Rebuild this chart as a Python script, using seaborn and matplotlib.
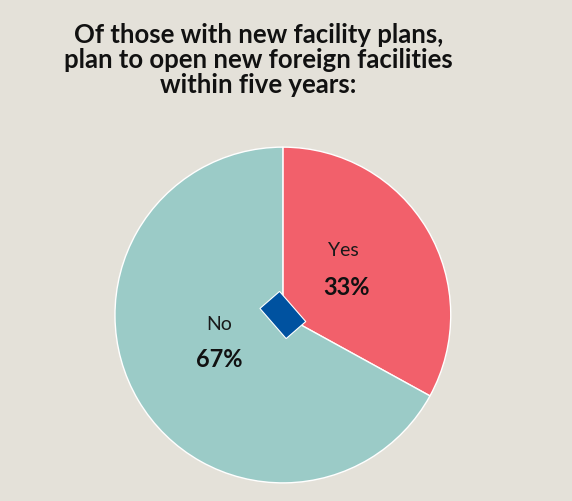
import matplotlib.pyplot as plt
import matplotlib.patches as mpatches
import seaborn as sns

# Data
labels = ["Yes", "No"]
shares = [33, 67]
colors = ["#F2606B", "#9BCBC7"]
label_pos = [(0.36, 0.39), (-0.38, -0.05)]
pct_pos = [(0.38, 0.17), (-0.38, -0.26)]

title = ("Of those with new facility plans,\n"
         "plan to open new foreign facilities\n"
         "within five years:")

bg = "#E4E1D9"

sns.set_theme(style="white")
plt.rcParams['font.family'] = ['Lato', 'DejaVu Sans']

fig = plt.figure(figsize=(5.72, 5.02), dpi=100, facecolor=bg)
ax = fig.add_axes([0.201, 0.036, 0.587, 0.669])
ax.set_facecolor(bg)

wedges, _ = ax.pie(
    shares,
    colors=colors,
    startangle=90,
    counterclock=False,
    wedgeprops=dict(edgecolor="white", linewidth=1.0),
)
ax.set_xlim(-1, 1)
ax.set_ylim(-1, 1)
ax.set_aspect("equal")

# Small blue diamond at the centre
diamond = mpatches.Rectangle((-0.119, -0.0775), 0.238, 0.155, angle=-49,
                             rotation_point="center", facecolor="#0052A0",
                             edgecolor="white", linewidth=0.8, zorder=5)
ax.add_patch(diamond)

for lab, pct, lp, pp in zip(labels, shares, label_pos, pct_pos):
    ax.text(lp[0], lp[1], lab, ha="center", va="center", fontsize=14,
            color="#1a1a1a")
    ax.text(pp[0], pp[1], f"{pct}%", ha="center", va="center", fontsize=17,
            fontweight="bold", color="#111111")

fig.text(0.452, 0.88, title, ha="center", va="center", fontsize=18.5,
         fontweight="bold", color="#111111", linespacing=1.05)

fig.savefig("out.png", dpi=100, facecolor=bg)
